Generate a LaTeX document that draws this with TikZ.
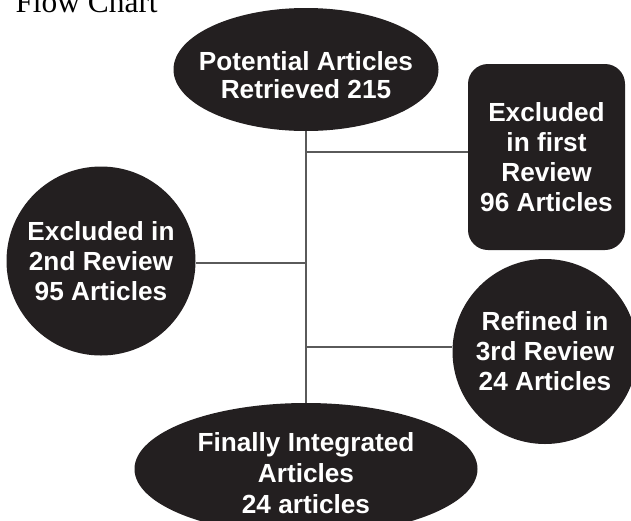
\documentclass[tikz,border=0pt]{standalone}
\usepackage{fontspec}
\newfontfamily\boxfont{Liberation Sans}
\newfontfamily\titlefont{Liberation Serif}
\usetikzlibrary{shapes.geometric}
\definecolor{blob}{RGB}{35,31,32}
\definecolor{wire}{RGB}{90,90,90}

\begin{document}
\begin{tikzpicture}[x=1pt,y=-1pt]
\tikzset{
  words/.style={text=white,align=center,
    font=\boxfont\bfseries\fontsize{26.2}{30}\selectfont},
  stage/.style={words,fill=blob},
  oval/.style={stage,ellipse,inner sep=0pt},
  disc/.style={stage,circle,inner sep=0pt},
  tile/.style={stage,rectangle,rounded corners=20pt},
  link/.style={draw=wire,line width=1.1pt}
}
\clip (0,0) rectangle (631,520);
\node[anchor=base west,font=\titlefont\fontsize{31.4}{36}\selectfont] (title) at (12,12.5) {Flow Chart};
\node[oval,minimum width=265,minimum height=123,
  label={[words,yshift=-6pt]center:{Potential Articles\\[-2pt]Retrieved 215}}] (pot) at (306,69.5) {};
\node[tile,minimum width=157,minimum height=186] (first) at (546.5,157) {Excluded\\in first\\Review\\96 Articles};
\node[disc,minimum size=189] (second) at (101,261) {Excluded in\\2nd Review\\95 Articles};
\node[disc,minimum size=185] (third) at (545,351.5) {Refined in\\3rd Review\\24 Articles};
\node[oval,minimum width=343,minimum height=132,
  label={[words,yshift=-4.5pt]center:{Finally Integrated\\[1pt]Articles\\[1pt]24 articles}}] (final) at (306,469) {};
\coordinate (j1) at (306,152);
\coordinate (j2) at (306,263);
\coordinate (j3) at (306,347);
\draw[link] (pot.south) -- (final.north);
\draw[link] (j1) -- (j1 -| first.west);
\draw[link] (second.east |- j2) -- (j2);
\draw[link] (j3) -- (j3 -| third.west);
\end{tikzpicture}
\end{document}
